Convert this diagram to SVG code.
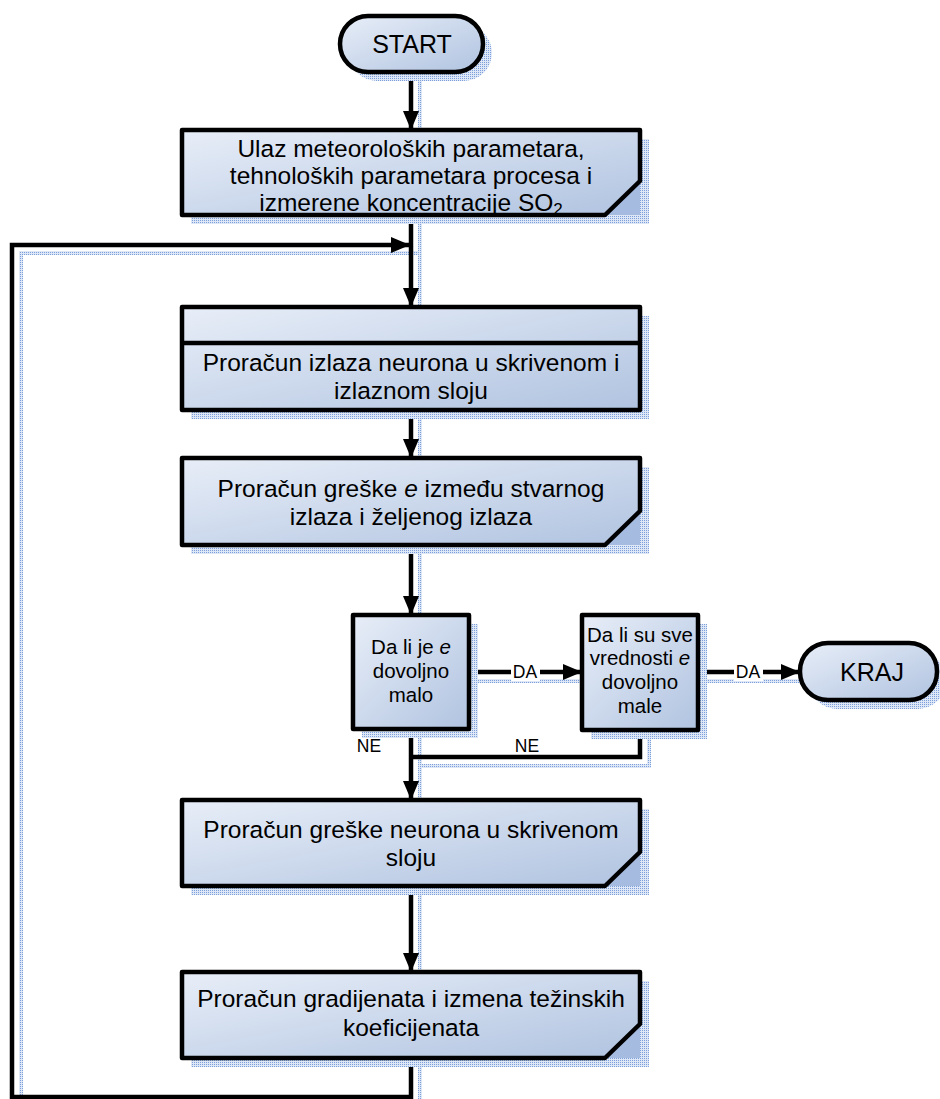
<svg xmlns="http://www.w3.org/2000/svg" width="940" height="1099" viewBox="0 0 940 1099">
  <defs>
    <linearGradient id="fillGrad" x1="0" y1="0" x2="1" y2="1">
      <stop offset="0" stop-color="#e8eef8"/>
      <stop offset="1" stop-color="#b0c3e0"/>
    </linearGradient>
    <pattern id="shadowDots" width="2" height="2" patternUnits="userSpaceOnUse">
      <rect width="2" height="2" fill="#dde7f6"/>
      <rect width="1" height="1" fill="#7c9fdb"/>
    </pattern>
    <marker id="arrow" markerUnits="userSpaceOnUse" markerWidth="20" markerHeight="18" refX="19" refY="9" orient="auto">
      <path d="M0,1 L19,9 L0,17 Z" fill="#000"/>
    </marker>
  </defs>
  <style>
    .shape { fill: url(#fillGrad); stroke: #000; stroke-width: 4.5; stroke-linejoin: round; }
    .shadow { fill: url(#shadowDots); }
    .fold { fill: #a6bbe0; }
    .edge { fill: none; stroke: #000; stroke-width: 4.5; }
    .edgeShadow { fill: none; stroke: url(#shadowDots); stroke-width: 4; }
    .t { font-family: "Liberation Sans", Arial, sans-serif; font-size: 24.5px; fill: #000; text-anchor: middle; }
    .d { font-family: "Liberation Sans", Arial, sans-serif; font-size: 20.5px; fill: #000; text-anchor: middle; }
    .term { font-family: "Liberation Sans", Arial, sans-serif; font-size: 25px; fill: #000; text-anchor: middle; }
    .lbl { font-family: "Liberation Sans", Arial, sans-serif; font-size: 17.5px; fill: #000; text-anchor: middle; }
  </style>

  <!-- connector shadows -->
  <g id="connector-shadows">
    <path class="edgeShadow" d="M420,81 V138"/>
    <path class="edgeShadow" d="M420,224 V315"/>
    <path class="edgeShadow" d="M21,1099 V253 H419"/>
    <path class="edgeShadow" d="M420,419 V466"/>
    <path class="edgeShadow" d="M420,554 V623"/>
    <path class="edgeShadow" d="M478,681 H590"/>
    <path class="edgeShadow" d="M707,681 H808"/>
    <path class="edgeShadow" d="M420,738 V808"/>
    <path class="edgeShadow" d="M649,739 V766 H420"/>
    <path class="edgeShadow" d="M420,895 V980"/>
    <path class="edgeShadow" d="M420,1067 V1099"/>
  </g>

  <!-- connectors -->
  <g id="connectors">
    <path class="edge" d="M411,72 V130" marker-end="url(#arrow)"/>
    <path class="edge" d="M411,215 V307" marker-end="url(#arrow)"/>
    <path class="edge" d="M411,1058 V1097 H12 V245 H410" marker-end="url(#arrow)"/>
    <path class="edge" d="M411,410 V458" marker-end="url(#arrow)"/>
    <path class="edge" d="M411,545 V615" marker-end="url(#arrow)"/>
    <path class="edge" d="M469,672 H582" marker-end="url(#arrow)"/>
    <path class="edge" d="M698,672 H800" marker-end="url(#arrow)"/>
    <path class="edge" d="M411,729 V800" marker-end="url(#arrow)"/>
    <path class="edge" d="M640,730 V757 H411"/>
    <path class="edge" d="M411,886 V972" marker-end="url(#arrow)"/>
    <rect x="511" y="662" width="29" height="19" fill="#fff"/>
    <text class="lbl" x="525" y="678">DA</text>
    <rect x="734" y="662" width="29" height="19" fill="#fff"/>
    <text class="lbl" x="748" y="678">DA</text>
    <text class="lbl" x="369" y="752">NE</text>
    <text class="lbl" x="527" y="752">NE</text>
  </g>

  <!-- START terminal -->
  <g id="start">
    <rect class="shadow" x="349" y="25" width="143" height="56" rx="28"/>
    <rect class="shape" x="340" y="16" width="143" height="56" rx="28"/>
    <text class="term" x="412" y="53">START</text>
  </g>

  <!-- input block -->
  <g id="input">
    <rect class="shadow" x="191" y="139" width="458" height="85"/>
    <path class="fold" d="M605,215 L640,181 L640,215 Z"/>
    <path class="shape" d="M182,130 H640 V181 L605,215 H182 Z"/>
    <text class="t" x="411" y="157">Ulaz meteoroloških parametara,</text>
    <text class="t" x="411" y="184">tehnoloških parametara procesa i</text>
    <text class="t" x="411" y="211">izmerene koncentracije SO<tspan font-size="17" dy="4">2</tspan></text>
  </g>

  <!-- forward pass block -->
  <g id="forward">
    <rect class="shadow" x="191" y="316" width="458" height="103"/>
    <rect class="shape" x="182" y="307" width="458" height="103"/>
    <line x1="182" y1="343" x2="640" y2="343" stroke="#000" stroke-width="4.5"/>
    <text class="t" x="411" y="371">Proračun izlaza neurona u skrivenom i</text>
    <text class="t" x="411" y="399">izlaznom sloju</text>
  </g>

  <!-- output error block -->
  <g id="error">
    <rect class="shadow" x="191" y="467" width="458" height="87"/>
    <path class="fold" d="M605,545 L640,511 L640,545 Z"/>
    <path class="shape" d="M182,458 H640 V511 L605,545 H182 Z"/>
    <text class="t" x="411" y="497">Proračun greške <tspan font-style="italic">e</tspan> između stvarnog</text>
    <text class="t" x="411" y="525">izlaza i željenog izlaza</text>
  </g>

  <!-- first decision -->
  <g id="decision1">
    <rect class="shadow" x="362" y="624" width="116" height="114"/>
    <rect class="shape" x="353" y="615" width="116" height="114"/>
    <text class="d" x="411" y="654">Da li je <tspan font-style="italic">e</tspan></text>
    <text class="d" x="411" y="678">dovoljno</text>
    <text class="d" x="411" y="702">malo</text>
  </g>

  <!-- second decision -->
  <g id="decision2">
    <rect class="shadow" x="591" y="624" width="116" height="115"/>
    <rect class="shape" x="582" y="615" width="116" height="115"/>
    <text class="d" x="640" y="642">Da li su sve</text>
    <text class="d" x="640" y="665">vrednosti <tspan font-style="italic">e</tspan></text>
    <text class="d" x="640" y="689">dovoljno</text>
    <text class="d" x="640" y="713">male</text>
  </g>

  <!-- end terminal -->
  <g id="end">
    <rect class="shadow" x="809" y="652" width="137" height="57" rx="28"/>
    <rect class="shape" x="800" y="643" width="137" height="57" rx="28"/>
    <text class="term" x="872" y="681">KRAJ</text>
  </g>

  <!-- hidden layer error block -->
  <g id="hidden-error">
    <rect class="shadow" x="191" y="809" width="458" height="86"/>
    <path class="fold" d="M605,886 L640,852 L640,886 Z"/>
    <path class="shape" d="M182,800 H640 V852 L605,886 H182 Z"/>
    <text class="t" x="411" y="838">Proračun greške neurona u skrivenom</text>
    <text class="t" x="411" y="866">sloju</text>
  </g>

  <!-- weight update block -->
  <g id="update">
    <rect class="shadow" x="191" y="981" width="458" height="86"/>
    <path class="fold" d="M605,1058 L640,1024 L640,1058 Z"/>
    <path class="shape" d="M182,972 H640 V1024 L605,1058 H182 Z"/>
    <text class="t" x="411" y="1007">Proračun gradijenata i izmena težinskih</text>
    <text class="t" x="411" y="1036">koeficijenata</text>
  </g>
</svg>
